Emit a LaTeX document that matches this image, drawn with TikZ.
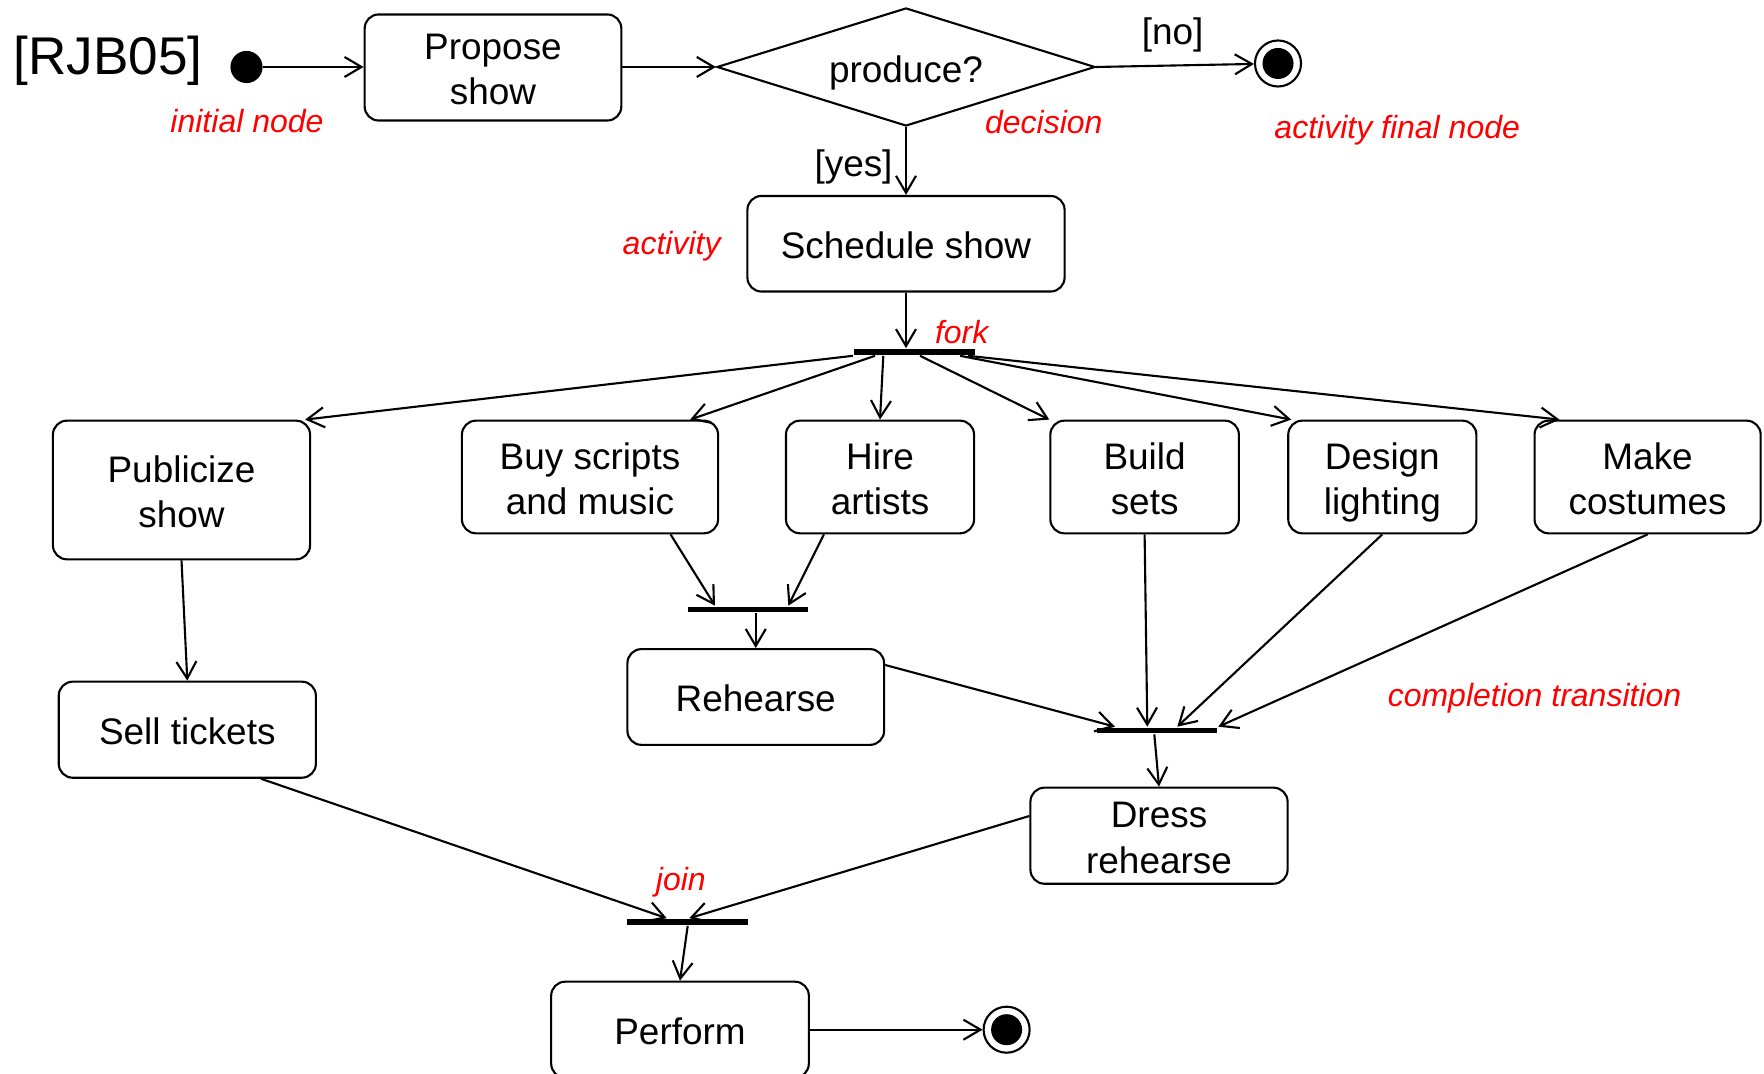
\documentclass[tikz,border=0pt]{standalone}
\usepackage{fontspec}
\setmainfont{Liberation Sans}
\usetikzlibrary{arrows.meta,shapes.geometric}
% invisible strut that gives the first text line of a two-line box a little more head room
\newcommand{\toplinestrut}{\rule{0pt}{0.30cm}}

\begin{document}
\begin{tikzpicture}[x=0.01cm,y=-0.01cm,
  line width=0.6pt,
  >={Straight Barb[length=1.7mm,width=2mm]},
  act/.style={draw, rounded corners=0.14cm, align=center, inner sep=0pt,
    font=\fontsize{10.5}{12.9}\selectfont,
    execute at begin node={\rule{0pt}{0.29cm}}},
  bar/.style={fill=black, inner sep=0pt, minimum height=0.055cm},
  note/.style={text=red, font=\fontsize{9.1}{11}\selectfont\itshape, anchor=base, inner sep=0pt},
  guard/.style={font=\fontsize{10.5}{12.6}\selectfont, inner sep=0pt},
  endnode/.style={draw, circle, fill=white, inner sep=0pt, minimum size=0.46cm,
    path picture={\fill[black] (path picture bounding box.center) circle (0.155cm);}},
]
\useasboundingbox (0,0) rectangle (1764,1074);
\clip (0,0) rectangle (1764,1074);

% title
\node[guard, font=\fontsize{15.1}{18}\selectfont] (ref) at (108,61) {[RJB05]};

% top row
\node[draw, circle, fill, inner sep=0pt, minimum size=0.3cm] (start) at (246.5,67) {};
\node[act, minimum width=2.565cm, minimum height=1.06cm] (propose) at (493,67.5) {\toplinestrut Propose\\show};
\node[draw, diamond, aspect=3.2, inner sep=0pt, minimum width=3.78cm, minimum height=1.18cm,
  font=\fontsize{10.5}{12.6}\selectfont] (decide) at (906,67)
  {\raisebox{-0.055cm}[\height][\depth]{produce?}};
\node[endnode] (end1) at (1278,63.5) {};
\node[act, minimum width=3.17cm, minimum height=0.955cm] (sched) at (906,243.75) {Schedule show};

% fork
\node[bar, minimum width=1.21cm] (fork) at (914.5,352) {};

% parallel activities
\node[act, minimum width=2.57cm, minimum height=1.386cm] (pub) at (181.5,490) {\toplinestrut Publicize\\show};
\node[act, minimum width=2.56cm, minimum height=1.126cm] (buy) at (590,477) {\toplinestrut Buy scripts\\and music};
\node[act, minimum width=1.88cm, minimum height=1.126cm] (hire) at (880,477) {\toplinestrut Hire\\artists};
\node[act, minimum width=1.884cm, minimum height=1.126cm] (build) at (1144.6,477) {\toplinestrut Build\\sets};
\node[act, minimum width=1.88cm, minimum height=1.126cm] (design) at (1382.3,477)
  {\toplinestrut Design\\\raisebox{0pt}[\height][0pt]{lighting}};
\node[act, minimum width=2.26cm, minimum height=1.126cm] (make) at (1647.6,477) {\toplinestrut Make\\costumes};

% joins and later activities
\node[bar, minimum width=1.206cm] (joinA) at (748,609.5) {};
\node[act, minimum width=2.565cm, minimum height=0.957cm] (rehearse) at (755.75,697) {Rehearse};
\node[act, minimum width=2.57cm, minimum height=0.96cm] (sell) at (187.3,729.7) {Sell tickets};
\node[bar, minimum width=1.2cm] (joinB) at (1156.7,730.5) {};
\node[act, minimum width=2.57cm, minimum height=0.96cm] (dress) at (1159,835.7) {\toplinestrut Dress\\rehearse};
\node[bar, minimum width=1.207cm] (joinC) at (687.7,922) {};
\node[act, minimum width=2.575cm, minimum height=0.96cm] (perform) at (680,1029.7) {Perform};
\node[endnode] (end2) at (1006.6,1029.7) {};

% annotations
\node[note] (lblinit) at (247,133) {initial node};
\node[note] (lblact) at (671.6,255) {activity};
\node[note] (lbldec) at (1043.8,134) {decision};
\node[note] (lblfinal) at (1397.2,139) {activity final node};
\node[note] (lblfork) at (961.7,344) {fork};
\node[note] (lblcomp) at (1534.5,707) {completion transition};
\node[note] (lbljoin) at (680.8,891) {join};
\node[guard] (gno) at (1172.7,35) {[no]};
\node[guard] (gyes) at (853.5,167) {[yes]};

% control flows
\draw[->] (start) -- (propose.west |- start);
\draw[->] (propose.east |- start) -- (decide.west);
\draw[->] (decide.east) -- (end1);
\draw[->] (decide.south) -- (sched.north);
\draw[->] (sched.south) -- (sched.south |- fork.north);

\draw[->] (fork.south west) -- ([xshift=-0.06cm]pub.north east);
\draw[->] ([xshift=-0.395cm]fork.south) -- ([xshift=-0.29cm]buy.north east);
\draw[->] ([xshift=-0.312cm]fork.south) -- (hire.north);
\draw[->] ([xshift=0.055cm]fork.south) -- (build.north west);
\draw[->] ([xshift=0.455cm]fork.south) -- ([xshift=0.04cm]design.north west);
\draw[->] ([xshift=0.535cm]fork.south) -- ([xshift=0.26cm]make.north west);

\draw[->] ([xshift=0.805cm]buy.south) -- ([xshift=-0.33cm]joinA.north);
\draw[->] ([xshift=-0.56cm]hire.south) -- ([xshift=0.403cm]joinA.north);
\draw[->] (joinA.south -| rehearse.north) -- (rehearse.north);

\draw[->] ([yshift=0.32cm]rehearse.east) -- ([xshift=-0.417cm]joinB.north);
\draw[->] (build.south) -- ([xshift=-0.094cm]joinB.north);
\draw[->] (design.south) -- ([xshift=0.206cm]joinB.north);
\draw[->] (make.south) -- ([xshift=0.616cm]joinB.north);
\draw[->] ([xshift=-0.024cm]joinB.south) -- (dress.north);

\draw[->] (pub.south) -- (sell.north);

\draw[->] ([xshift=0.737cm]sell.south) -- ([xshift=-0.21cm]joinC.north);
\draw[->] ([yshift=0.197cm]dress.west) -- ([xshift=0.016cm]joinC.north);
\draw[->] (joinC.south) -- (perform.north);
\draw[->] (perform.east) -- (end2);
\end{tikzpicture}
\end{document}
